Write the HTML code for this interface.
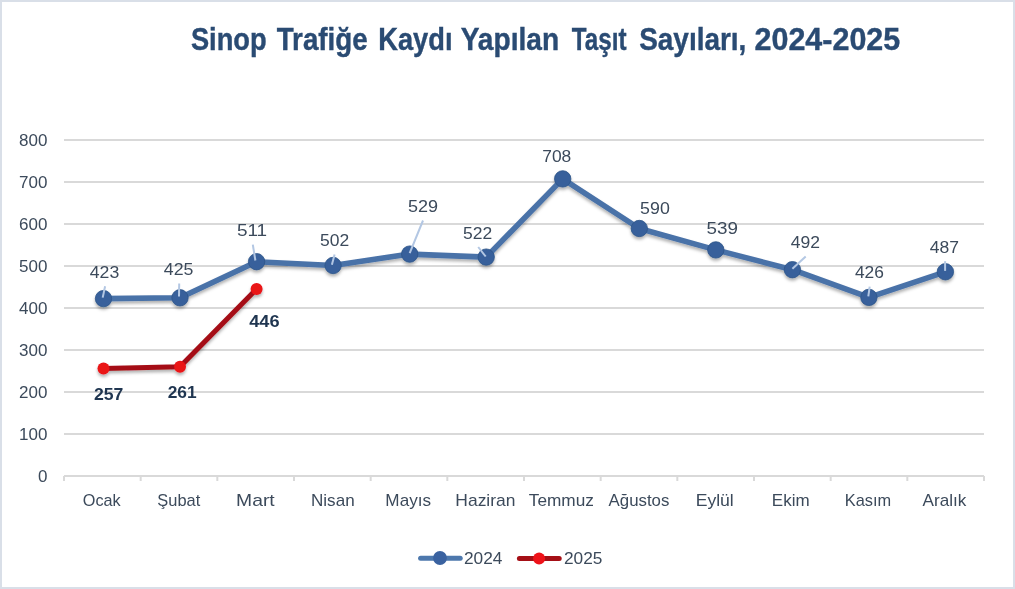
<!DOCTYPE html><html><head><meta charset="utf-8"><style>html,body{margin:0;padding:0;background:#fff;}svg{display:block;will-change:transform;}</style></head><body>
<svg width="1015" height="589" viewBox="0 0 1015 589">
<defs><filter id="sh" x="-20%" y="-20%" width="140%" height="160%"><feDropShadow dx="0" dy="2.5" stdDeviation="1.8" flood-color="#000" flood-opacity="0.3"/></filter></defs>
<rect x="0" y="0" width="1015" height="589" fill="#d9dfe8"/>
<rect x="2" y="2" width="1011" height="585" fill="#ffffff"/>
<rect x="64" y="433" width="920" height="2" fill="#d9d9d9"/>
<rect x="64" y="391" width="920" height="2" fill="#d9d9d9"/>
<rect x="64" y="349" width="920" height="2" fill="#d9d9d9"/>
<rect x="64" y="307" width="920" height="2" fill="#d9d9d9"/>
<rect x="64" y="265" width="920" height="2" fill="#d9d9d9"/>
<rect x="64" y="223" width="920" height="2" fill="#d9d9d9"/>
<rect x="64" y="181" width="920" height="2" fill="#d9d9d9"/>
<rect x="64" y="139" width="920" height="2" fill="#d9d9d9"/>
<rect x="64" y="475" width="920" height="2" fill="#d9d9d9"/>
<rect x="63.00" y="476" width="2" height="5" fill="#d9d9d9"/>
<rect x="139.67" y="476" width="2" height="5" fill="#d9d9d9"/>
<rect x="216.33" y="476" width="2" height="5" fill="#d9d9d9"/>
<rect x="293.00" y="476" width="2" height="5" fill="#d9d9d9"/>
<rect x="369.67" y="476" width="2" height="5" fill="#d9d9d9"/>
<rect x="446.33" y="476" width="2" height="5" fill="#d9d9d9"/>
<rect x="523.00" y="476" width="2" height="5" fill="#d9d9d9"/>
<rect x="599.67" y="476" width="2" height="5" fill="#d9d9d9"/>
<rect x="676.33" y="476" width="2" height="5" fill="#d9d9d9"/>
<rect x="753.00" y="476" width="2" height="5" fill="#d9d9d9"/>
<rect x="829.67" y="476" width="2" height="5" fill="#d9d9d9"/>
<rect x="906.33" y="476" width="2" height="5" fill="#d9d9d9"/>
<rect x="983.00" y="476" width="2" height="5" fill="#d9d9d9"/>
<text x="190.89" y="49.6" font-family='"Liberation Sans", sans-serif' font-weight="bold" font-size="31.5" fill="#2a4b73" stroke="#2a4b73" stroke-width="0.4" textLength="75.75" lengthAdjust="spacingAndGlyphs">Sinop</text>
<text x="276.70" y="49.6" font-family='"Liberation Sans", sans-serif' font-weight="bold" font-size="31.5" fill="#2a4b73" stroke="#2a4b73" stroke-width="0.4" textLength="90.95" lengthAdjust="spacingAndGlyphs">Trafiğe</text>
<text x="378.25" y="49.6" font-family='"Liberation Sans", sans-serif' font-weight="bold" font-size="31.5" fill="#2a4b73" stroke="#2a4b73" stroke-width="0.4" textLength="74.21" lengthAdjust="spacingAndGlyphs">Kaydı</text>
<text x="460.67" y="49.6" font-family='"Liberation Sans", sans-serif' font-weight="bold" font-size="31.5" fill="#2a4b73" stroke="#2a4b73" stroke-width="0.4" textLength="98.43" lengthAdjust="spacingAndGlyphs">Yapılan</text>
<text x="571.82" y="49.6" font-family='"Liberation Sans", sans-serif' font-weight="bold" font-size="31.5" fill="#2a4b73" stroke="#2a4b73" stroke-width="0.4" textLength="54.74" lengthAdjust="spacingAndGlyphs">Taşıt</text>
<text x="639.20" y="49.6" font-family='"Liberation Sans", sans-serif' font-weight="bold" font-size="31.5" fill="#2a4b73" stroke="#2a4b73" stroke-width="0.4" textLength="107.20" lengthAdjust="spacingAndGlyphs">Sayıları,</text>
<text x="754.49" y="49.6" font-family='"Liberation Sans", sans-serif' font-weight="bold" font-size="31.5" fill="#2a4b73" stroke="#2a4b73" stroke-width="0.4" textLength="145.74" lengthAdjust="spacingAndGlyphs">2024-2025</text>
<text x="38.10" y="481.6" font-family='"Liberation Sans", sans-serif' font-size="17" fill="#3c4a5b">0</text>
<text x="19.10" y="439.6" font-family='"Liberation Sans", sans-serif' font-size="17" fill="#3c4a5b">100</text>
<text x="19.10" y="397.6" font-family='"Liberation Sans", sans-serif' font-size="17" fill="#3c4a5b">200</text>
<text x="19.10" y="355.6" font-family='"Liberation Sans", sans-serif' font-size="17" fill="#3c4a5b">300</text>
<text x="19.10" y="313.6" font-family='"Liberation Sans", sans-serif' font-size="17" fill="#3c4a5b">400</text>
<text x="19.10" y="271.6" font-family='"Liberation Sans", sans-serif' font-size="17" fill="#3c4a5b">500</text>
<text x="19.10" y="229.6" font-family='"Liberation Sans", sans-serif' font-size="17" fill="#3c4a5b">600</text>
<text x="19.10" y="187.6" font-family='"Liberation Sans", sans-serif' font-size="17" fill="#3c4a5b">700</text>
<text x="19.10" y="145.6" font-family='"Liberation Sans", sans-serif' font-size="17" fill="#3c4a5b">800</text>
<text x="82.83" y="505.8" font-family='"Liberation Sans", sans-serif' font-size="17" fill="#3c4a5b" textLength="37.91" lengthAdjust="spacingAndGlyphs">Ocak</text>
<text x="157.33" y="505.8" font-family='"Liberation Sans", sans-serif' font-size="17" fill="#3c4a5b" textLength="42.92" lengthAdjust="spacingAndGlyphs">Şubat</text>
<text x="236.11" y="505.8" font-family='"Liberation Sans", sans-serif' font-size="17" fill="#3c4a5b" textLength="38.62" lengthAdjust="spacingAndGlyphs">Mart</text>
<text x="310.99" y="505.8" font-family='"Liberation Sans", sans-serif' font-size="17" fill="#3c4a5b" textLength="43.64" lengthAdjust="spacingAndGlyphs">Nisan</text>
<text x="385.39" y="505.8" font-family='"Liberation Sans", sans-serif' font-size="17" fill="#3c4a5b" textLength="45.64" lengthAdjust="spacingAndGlyphs">Mayıs</text>
<text x="455.36" y="505.8" font-family='"Liberation Sans", sans-serif' font-size="17" fill="#3c4a5b" textLength="60.09" lengthAdjust="spacingAndGlyphs">Haziran</text>
<text x="528.82" y="505.8" font-family='"Liberation Sans", sans-serif' font-size="17" fill="#3c4a5b" textLength="65.04" lengthAdjust="spacingAndGlyphs">Temmuz</text>
<text x="608.61" y="505.8" font-family='"Liberation Sans", sans-serif' font-size="17" fill="#3c4a5b" textLength="60.79" lengthAdjust="spacingAndGlyphs">Ağustos</text>
<text x="695.67" y="505.8" font-family='"Liberation Sans", sans-serif' font-size="17" fill="#3c4a5b" textLength="38.13" lengthAdjust="spacingAndGlyphs">Eylül</text>
<text x="771.87" y="505.8" font-family='"Liberation Sans", sans-serif' font-size="17" fill="#3c4a5b" textLength="37.80" lengthAdjust="spacingAndGlyphs">Ekim</text>
<text x="844.76" y="505.8" font-family='"Liberation Sans", sans-serif' font-size="17" fill="#3c4a5b" textLength="46.35" lengthAdjust="spacingAndGlyphs">Kasım</text>
<text x="922.62" y="505.8" font-family='"Liberation Sans", sans-serif' font-size="17" fill="#3c4a5b" textLength="43.78" lengthAdjust="spacingAndGlyphs">Aralık</text>
<text x="89.74" y="277.7" font-family='"Liberation Sans", sans-serif' font-size="17" fill="#3c4a5b" textLength="29.50" lengthAdjust="spacingAndGlyphs">423</text>
<text x="163.83" y="274.5" font-family='"Liberation Sans", sans-serif' font-size="17" fill="#3c4a5b" textLength="29.60" lengthAdjust="spacingAndGlyphs">425</text>
<text x="236.90" y="236.0" font-family='"Liberation Sans", sans-serif' font-size="17" fill="#3c4a5b" textLength="30.24" lengthAdjust="spacingAndGlyphs">511</text>
<text x="320.02" y="246" font-family='"Liberation Sans", sans-serif' font-size="17" fill="#3c4a5b" textLength="29.22" lengthAdjust="spacingAndGlyphs">502</text>
<text x="408.02" y="211.7" font-family='"Liberation Sans", sans-serif' font-size="17" fill="#3c4a5b" textLength="30.09" lengthAdjust="spacingAndGlyphs">529</text>
<text x="463.02" y="238.6" font-family='"Liberation Sans", sans-serif' font-size="17" fill="#3c4a5b" textLength="29.22" lengthAdjust="spacingAndGlyphs">522</text>
<text x="542.23" y="161.7" font-family='"Liberation Sans", sans-serif' font-size="17" fill="#3c4a5b" textLength="29.07" lengthAdjust="spacingAndGlyphs">708</text>
<text x="640.13" y="213.8" font-family='"Liberation Sans", sans-serif' font-size="17" fill="#3c4a5b" textLength="29.67" lengthAdjust="spacingAndGlyphs">590</text>
<text x="706.47" y="233.5" font-family='"Liberation Sans", sans-serif' font-size="17" fill="#3c4a5b" textLength="31.46" lengthAdjust="spacingAndGlyphs">539</text>
<text x="790.74" y="247.9" font-family='"Liberation Sans", sans-serif' font-size="17" fill="#3c4a5b" textLength="29.26" lengthAdjust="spacingAndGlyphs">492</text>
<text x="854.95" y="277.8" font-family='"Liberation Sans", sans-serif' font-size="17" fill="#3c4a5b" textLength="29.02" lengthAdjust="spacingAndGlyphs">426</text>
<text x="929.82" y="252.9" font-family='"Liberation Sans", sans-serif' font-size="17" fill="#3c4a5b" textLength="29.26" lengthAdjust="spacingAndGlyphs">487</text>
<text x="93.92" y="399.7" font-family='"Liberation Sans", sans-serif' font-weight="bold" font-size="17" fill="#1f3550" textLength="29.45" lengthAdjust="spacingAndGlyphs">257</text>
<text x="167.73" y="397.9" font-family='"Liberation Sans", sans-serif' font-weight="bold" font-size="17" fill="#1f3550" textLength="28.97" lengthAdjust="spacingAndGlyphs">261</text>
<text x="249.24" y="326.9" font-family='"Liberation Sans", sans-serif' font-weight="bold" font-size="17" fill="#1f3550" textLength="30.33" lengthAdjust="spacingAndGlyphs">446</text>
<text x="464.02" y="563.6" font-family='"Liberation Sans", sans-serif' font-size="17" fill="#3c4a5b" textLength="38.44" lengthAdjust="spacingAndGlyphs">2024</text>
<text x="564.02" y="563.6" font-family='"Liberation Sans", sans-serif' font-size="17" fill="#3c4a5b" textLength="38.44" lengthAdjust="spacingAndGlyphs">2025</text>
<g filter="url(#sh)"><polyline points="103.5,298.6 180.0,297.8 256.6,261.7 333.1,265.5 409.7,254.1 486.2,257.1 562.7,178.9 639.3,228.5 715.8,249.9 792.4,269.7 868.9,297.4 945.4,271.8" fill="none" stroke="#4a72a8" stroke-width="5.6" stroke-linejoin="round"/><circle cx="103.5" cy="298.6" r="8.2" fill="#37609b" stroke="#2d5488" stroke-width="0.8"/><circle cx="180.0" cy="297.8" r="8.2" fill="#37609b" stroke="#2d5488" stroke-width="0.8"/><circle cx="256.6" cy="261.7" r="8.2" fill="#37609b" stroke="#2d5488" stroke-width="0.8"/><circle cx="333.1" cy="265.5" r="8.2" fill="#37609b" stroke="#2d5488" stroke-width="0.8"/><circle cx="409.7" cy="254.1" r="8.2" fill="#37609b" stroke="#2d5488" stroke-width="0.8"/><circle cx="486.2" cy="257.1" r="8.2" fill="#37609b" stroke="#2d5488" stroke-width="0.8"/><circle cx="562.7" cy="178.9" r="8.2" fill="#37609b" stroke="#2d5488" stroke-width="0.8"/><circle cx="639.3" cy="228.5" r="8.2" fill="#37609b" stroke="#2d5488" stroke-width="0.8"/><circle cx="715.8" cy="249.9" r="8.2" fill="#37609b" stroke="#2d5488" stroke-width="0.8"/><circle cx="792.4" cy="269.7" r="8.2" fill="#37609b" stroke="#2d5488" stroke-width="0.8"/><circle cx="868.9" cy="297.4" r="8.2" fill="#37609b" stroke="#2d5488" stroke-width="0.8"/><circle cx="945.4" cy="271.8" r="8.2" fill="#37609b" stroke="#2d5488" stroke-width="0.8"/><polyline points="103.5,368.4 180.0,366.7 256.6,289.0" fill="none" stroke="#a50f16" stroke-width="5" stroke-linejoin="round"/><circle cx="103.5" cy="368.4" r="6" fill="#ea1219"/><circle cx="180.0" cy="366.7" r="6" fill="#ea1219"/><circle cx="256.6" cy="289.0" r="6" fill="#ea1219"/></g>
<line x1="105.1" y1="286.3" x2="102.7" y2="297.6" stroke="#b3c7e3" stroke-width="2"/>
<line x1="179.2" y1="283.4" x2="179" y2="296.4" stroke="#b3c7e3" stroke-width="2"/>
<line x1="252.8" y1="244.6" x2="255.4" y2="260.5" stroke="#b3c7e3" stroke-width="2"/>
<line x1="334.6" y1="254.6" x2="331.9" y2="264.7" stroke="#b3c7e3" stroke-width="2"/>
<line x1="423" y1="220.5" x2="409.7" y2="253.1" stroke="#b3c7e3" stroke-width="2"/>
<line x1="478.2" y1="247" x2="485.7" y2="256.5" stroke="#b3c7e3" stroke-width="2"/>
<line x1="805.7" y1="256.4" x2="792.4" y2="268.8" stroke="#b3c7e3" stroke-width="2"/>
<line x1="869.7" y1="286.7" x2="868.3" y2="296.4" stroke="#b3c7e3" stroke-width="2"/>
<line x1="945.1" y1="261.2" x2="945.1" y2="270.9" stroke="#b3c7e3" stroke-width="2"/>
<line x1="420.6" y1="558.2" x2="460.2" y2="558.2" stroke="#4d78ad" stroke-width="5" stroke-linecap="round"/>
<circle cx="440" cy="558" r="6.9" fill="#3a62a0"/>
<line x1="519.4" y1="558.4" x2="559.2" y2="558.4" stroke="#a50f16" stroke-width="5" stroke-linecap="round"/>
<circle cx="539.1" cy="558.4" r="6" fill="#ee1219"/>
</svg></body></html>
